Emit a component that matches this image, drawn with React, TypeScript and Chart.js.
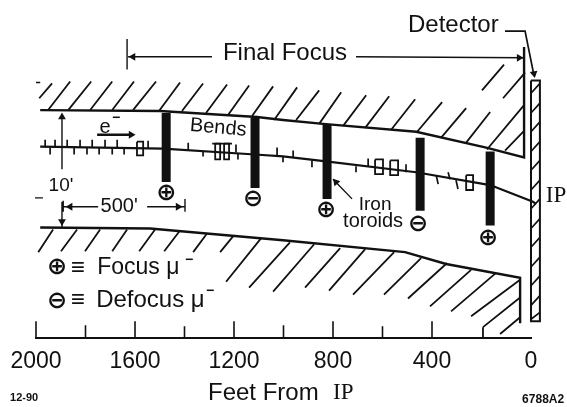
import React, { useEffect, useRef } from "react";
import { Chart, registerables } from "chart.js";

Chart.register(...registerables);

// x values: feet from the IP. y values: inches of height above the axis line.
const INK = "#111111";
const SANS = '"Liberation Sans", Arial, sans-serif';
const SERIF = '"Liberation Serif", serif';

const tickFeet = [2000, 1800, 1600, 1400, 1200, 1000, 800, 600, 400, 200];
const tickHeight = [17, 13, 17, 12, 17, 13, 17, 12, 17, 0];

const upperWall = [[28, 295], [28, 183], [181, 193], [464, 209], [840, 217], [1002, 221], [1107, 224], [1499, 230], [1983, 231]];
const lowerWall = [[1983, 112], [1539, 111], [1002, 99], [509, 87], [343, 75], [44, 61], [44, 15]];
const beamLine = [[1983, 194], [1486, 192], [1115, 186], [1002, 184], [828, 179], [464, 168], [165, 155], [-8, 138], [-20, 136]];
const ipPoint = [[-20, 136]];

const upperHatch = [
  [1987, 243, 1935, 258], [1951, 231, 1862, 260], [1870, 231, 1777, 260], [1781, 231, 1692, 260],
  [1692, 231, 1604, 260], [1608, 231, 1515, 260], [1503, 230, 1418, 259], [1410, 230, 1325, 258],
  [1313, 228, 1228, 257], [1224, 226, 1139, 256], [1127, 225, 1042, 255], [1038, 221, 945, 254],
  [949, 221, 856, 251], [856, 217, 767, 249], [759, 215, 666, 246], [670, 213, 573, 245],
  [565, 211, 468, 242], [460, 209, 359, 239], [363, 203, 262, 233], [262, 198, 165, 229],
  [178, 191, 28, 236], [105, 190, 28, 210], [113, 243, 24, 269], [198, 251, 109, 277],
];
const lowerHatch = [
  [1931, 110, 1991, 87], [1834, 110, 1899, 88], [1741, 110, 1802, 88], [1632, 110, 1692, 88],
  [1519, 110, 1583, 88], [1418, 109, 1482, 88], [1309, 106, 1365, 87], [1204, 103, 1256, 87],
  [1091, 101, 1232, 57], [974, 97, 1139, 51], [876, 95, 1042, 47], [771, 91, 913, 51],
  [670, 90, 816, 48], [553, 87, 719, 44], [444, 81, 594, 44], [339, 76, 497, 40],
  [242, 69, 408, 32], [141, 66, 323, 27], [44, 59, 242, 22],
  [194, 0, 194, 11], [194, 11, 44, 41], [125, 4, 44, 21],
];
const magnetTicks = [
  [1963, 193, 1963, 201], [1943, 193, 1943, 186], [1923, 193, 1923, 201], [1874, 193, 1874, 201],
  [1846, 193, 1846, 186], [1822, 193, 1822, 201], [1794, 193, 1794, 186], [1773, 193, 1773, 201],
  [1745, 193, 1745, 186], [1721, 193, 1721, 201], [1692, 193, 1692, 186], [1672, 193, 1672, 201],
  [1644, 193, 1644, 186], [1547, 192, 1547, 200], [1385, 190, 1385, 198], [1325, 189, 1325, 184],
  [1192, 188, 1192, 196], [1184, 187, 1184, 181], [1026, 185, 1026, 193], [961, 183, 961, 190],
  [1002, 184, 1002, 178], [885, 180, 885, 173], [707, 174, 707, 168], [658, 174, 658, 182],
  [505, 176, 505, 168], [383, 165, 375, 156], [335, 168, 327, 161], [303, 160, 295, 151],
  [1288, 197, 1208, 197],
];
const magnetBoxes = [
  [1592, 199, 1567, 185], [1276, 197, 1256, 181], [1240, 197, 1220, 181],
  [630, 181, 598, 166], [569, 180, 537, 165], [262, 165, 234, 150],
];
const toroids = [
  [1474, 228, 158], [1115, 223, 152], [824, 216, 141], [448, 203, 129], [165, 189, 114],
];
const guideLines = [
  [1632, 303, 1632, 272], [1628, 285, 1289, 285], [707, 285, 28, 284],
  [1895, 224, 1895, 171], [1895, 138, 1895, 112],
  [1890, 139, 1890, 128], [1890, 133, 1749, 133], [1551, 133, 1398, 133], [1398, 141, 1398, 128],
  [800, 161, 723, 141], [2000, 259, 1983, 259], [2004, 142, 1972, 142],
];
const eArrow = [[1753, 206], [1610, 206]];
const detectorLeader = [[105, 311], [24, 311], [-12, 266]];
const detectorBody = [[0, 261], [-36, 261], [-36, 17], [0, 17], [0, 261]];
const detectorHatch = [
  [0, 248, -36, 258], [0, 228, -36, 238], [0, 209, -36, 219], [0, 189, -36, 199], [0, 170, -36, 180],
  [0, 150, -36, 160], [0, 131, -36, 141], [0, 111, -36, 121], [0, 92, -36, 102], [0, 72, -36, 82],
  [0, 53, -36, 63], [0, 33, -36, 43], [0, 19, -36, 26],
];
const straySpot = [[2048, 260]];

const arrowFeet = [1608, 48, 1616, 1895, 1895, 1862, 1426, 788, -12];
const arrowHeight = [285, 284, 206, 224, 118, 133, 133, 158, 268];
const arrowTurn = [-90, 90, 90, 0, 180, -90, 90, -40, 170];

const labelText = [
  "Final Focus", "Detector", "Bends", "Iron", "toroids", "IP", "10'", "500'", "e", "−",
  "⊕", "⊖", "⊕", "⊖", "⊕",
  "⊕", "≡", "Focus μ", "−", "⊖", "≡", "Defocus μ", "−",
  "Feet From", "IP", "12-90", "6788A2",
];
const labelFeet = [
  994, 497, 1264, 630, 638, -101, 1899, 1664, 1721, 1676,
  1474, 1123, 828, 456, 174,
  1915, 1830, 1753, 1381, 1915, 1830, 1757, 1297,
  1305, 800, 2048, -49,
];
const labelHeight = [
  288, 317, 213, 135, 118, 144, 154, 133, 213, 223,
  146, 140, 129, 115, 101,
  71, 71, 71, 79, 37, 38, 38, 47,
  -56, -56, -61, -63,
];
const labelSize = [
  24, 24, 20, 19, 20, 23, 19, 20, 20, 14,
  24, 24, 24, 24, 24,
  24, 24, 23, 14, 24, 24, 24, 14,
  24, 23, 11, 12,
];
const labelAnchor = [
  "center", "left", "center", "center", "center", "center", "center", "center", "center", "center",
  "center", "center", "center", "center", "center",
  "center", "center", "left", "center", "center", "center", "left", "center",
  "left", "left", "center", "center",
];
const labelFamily = [
  SANS, SANS, SANS, SANS, SANS, SERIF, SANS, SANS, SANS, SANS,
  "DejaVu Sans", "DejaVu Sans", "DejaVu Sans", "DejaVu Sans", "DejaVu Sans",
  "DejaVu Sans", SANS, SANS, SANS, "DejaVu Sans", SANS, SANS, SANS,
  SANS, SERIF, SANS, SANS,
];
const labelWeight = [
  "normal", "normal", "normal", "normal", "normal", "normal", "normal", "normal", "normal", "bold",
  "bold", "bold", "bold", "bold", "bold",
  "bold", "bold", "normal", "bold", "bold", "bold", "normal", "bold",
  "normal", "normal", "bold", "bold",
];
const labelTurn = [0, 0, 5, 0, 0, 0, 0, 0, 0, 0, 0, 0, 0, 0, 0, 0, 0, 0, 0, 0, 0, 0, 0, 0, 0, 0, 0];

type Pt = { x: number; y: number | null };

const path = (rows: number[][]): Pt[] => rows.map(([x, y]) => ({ x, y }));
const strokes = (rows: number[][]): Pt[] =>
  rows.flatMap(([a, b, c, d]) => [{ x: a, y: b }, { x: c, y: d }, { x: c, y: null }]);
const boxes = (rows: number[][]): Pt[] =>
  rows.flatMap(([a, b, c, d]) => [
    { x: a, y: b }, { x: c, y: b }, { x: c, y: d }, { x: a, y: d }, { x: a, y: b }, { x: a, y: null },
  ]);

const line = (label: string, data: Pt[], borderWidth: number) => ({
  label,
  data,
  borderWidth,
  borderColor: INK,
  backgroundColor: INK,
  pointRadius: 0,
  tension: 0,
  fill: false,
  clip: false,
  borderCapStyle: "butt",
});

const labelPlugin = {
  id: "diagramLabels",
  afterDatasetsDraw(chart: any) {
    const { ctx, scales } = chart;
    labelText.forEach((text, i) => {
      ctx.save();
      ctx.translate(scales.x.getPixelForValue(labelFeet[i]), scales.y.getPixelForValue(labelHeight[i]));
      ctx.rotate((labelTurn[i] * Math.PI) / 180);
      ctx.fillStyle = INK;
      ctx.font = `${labelWeight[i]} ${labelSize[i]}px ${labelFamily[i]}`;
      ctx.textAlign = labelAnchor[i];
      ctx.textBaseline = "middle";
      ctx.fillText(text, 0, 0);
      ctx.restore();
    });
  },
};

export default function App() {
  const ref = useRef<HTMLCanvasElement>(null);

  useEffect(() => {
    document.body.style.margin = "0";
    const chart = new Chart(ref.current as HTMLCanvasElement, {
      type: "line",
      data: {
        datasets: [
          line("Upper wall", path(upperWall), 2.4),
          line("Lower wall", path(lowerWall), 2.4),
          line("Upper hatching", strokes(upperHatch), 1.8),
          line("Lower hatching", strokes(lowerHatch), 1.8),
          line("Beam line", path(beamLine), 2.2),
          line("Magnets", strokes(magnetTicks), 1.7),
          line("Magnet boxes", boxes(magnetBoxes), 1.8),
          line("Iron toroids", toroids.flatMap(([x, a, b]) => [{ x, y: a }, { x, y: b }, { x, y: null }]), 9),
          line("Guides", strokes(guideLines), 1.4),
          line("Electron arrow", path(eArrow), 2.4),
          line("Detector leader", path(detectorLeader), 1.7),
          line("Detector", path(detectorBody), 2),
          line("Detector hatching", strokes(detectorHatch), 1.7),
          line("Axis ticks", strokes(tickFeet.map((f, i) => [f, 0, f, tickHeight[i]])), 1.6),
          {
            ...line("Arrow heads", arrowFeet.map((x, i) => ({ x, y: arrowHeight[i] })), 0),
            showLine: false,
            pointStyle: "triangle",
            pointRadius: 4.5,
            pointRotation: arrowTurn,
            pointBackgroundColor: INK,
            pointBorderWidth: 0,
          },
          {
            ...line("IP", path(ipPoint), 0),
            showLine: false,
            pointRadius: 2.8,
            pointBackgroundColor: INK,
            pointBorderWidth: 0,
          },
          {
            ...line("Spot", path(straySpot), 0),
            showLine: false,
            pointRadius: 1.8,
            pointBackgroundColor: INK,
            pointBorderWidth: 0,
          },
        ] as any,
      },
      options: {
        animation: false,
        responsive: false,
        layout: { padding: { left: 36, right: 36, top: 0, bottom: 0 } },
        plugins: { legend: { display: false }, tooltip: { enabled: false } },
        scales: {
          x: {
            type: "linear",
            reverse: true,
            min: 0,
            max: 2000,
            afterFit: (s: any) => {
              s.height = 69;
            },
            grid: { drawOnChartArea: false, drawTicks: false },
            border: { display: true, color: INK, width: 2 },
            ticks: {
              stepSize: 200,
              autoSkip: false,
              maxRotation: 0,
              padding: 10,
              color: INK,
              font: { family: SANS, size: 23 },
              callback: (v: any) => (Number(v) % 400 === 0 ? String(v) : ""),
            },
          },
          y: { display: false, min: 0, max: 338 },
        },
      },
      plugins: [labelPlugin],
    } as any);
    return () => chart.destroy();
  }, []);

  return <canvas ref={ref} width={567} height={407} style={{ display: "block" }} />;
}
